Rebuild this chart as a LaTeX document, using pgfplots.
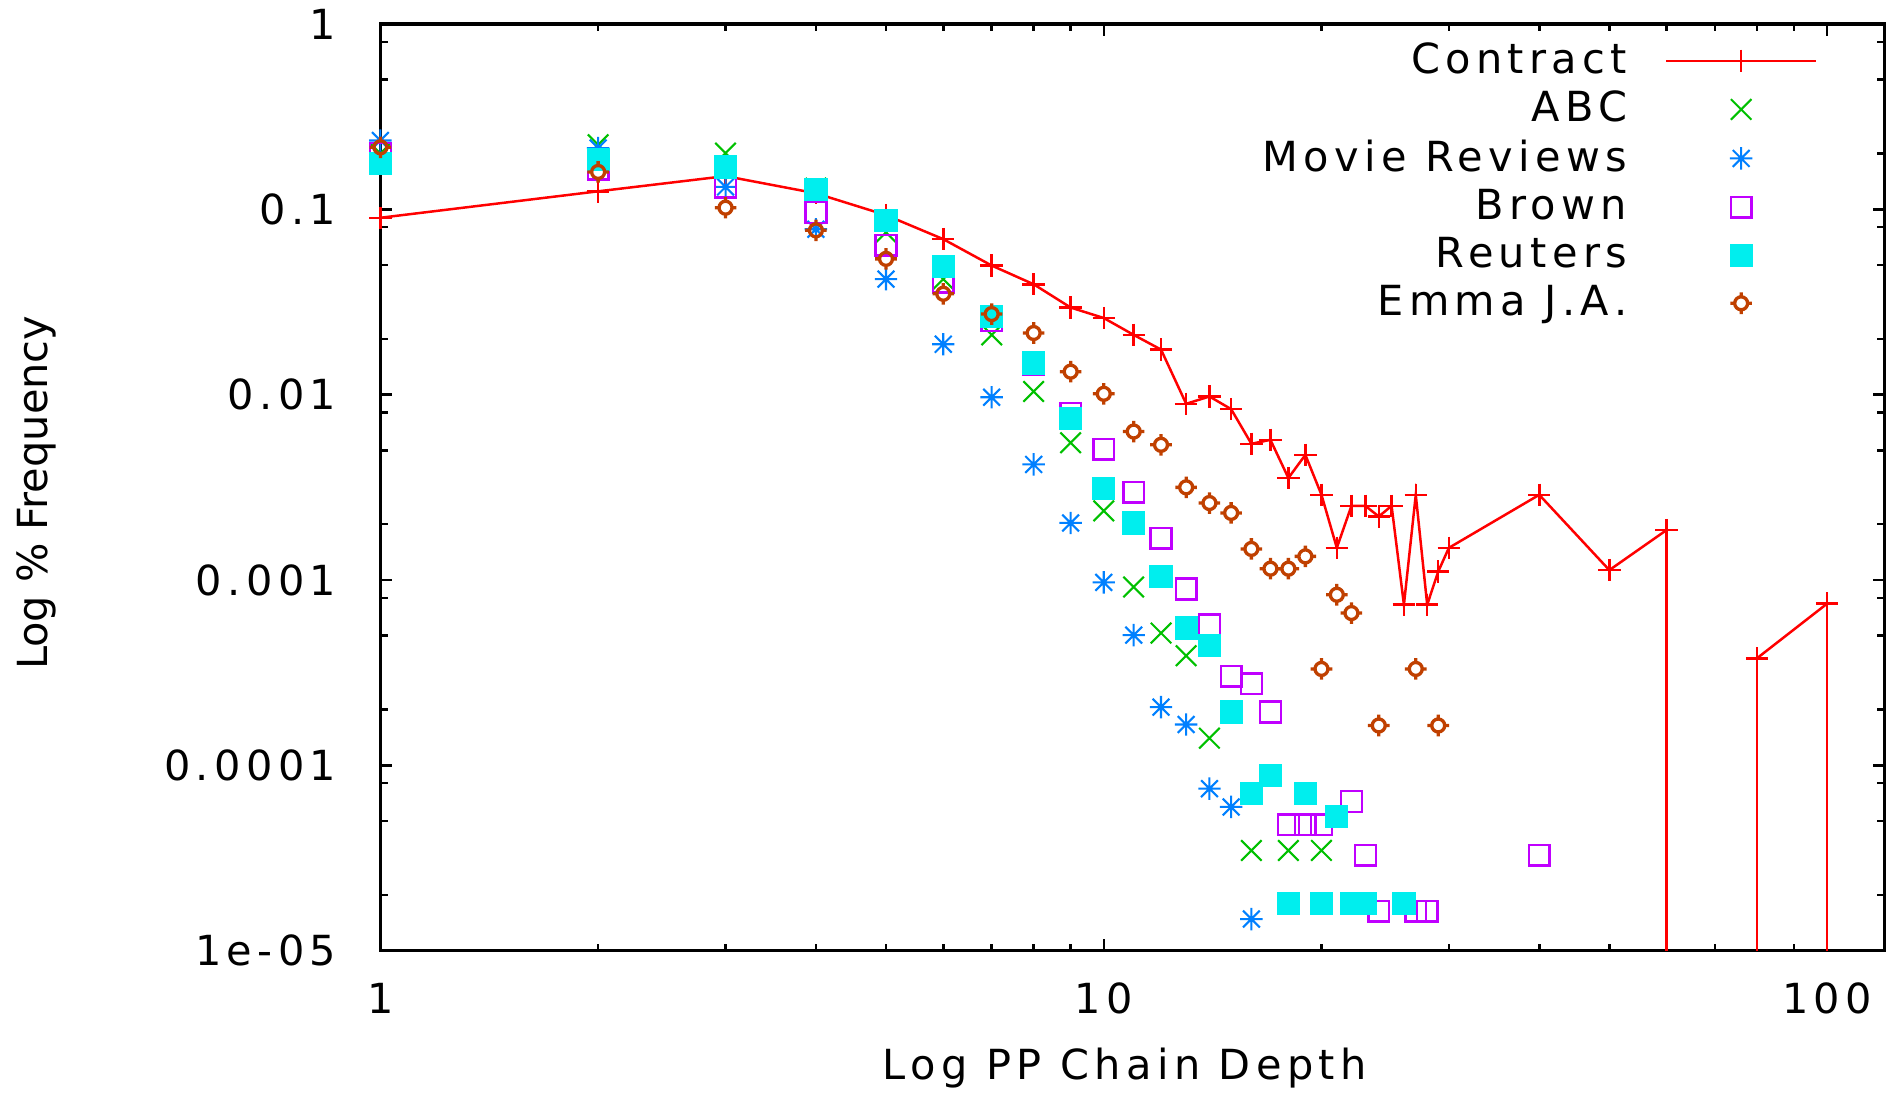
\documentclass[border=0pt]{standalone}
\usepackage{fontspec}
\setmainfont{DejaVu Sans}[LetterSpace=13]
\newfontfamily\plainfont{DejaVu Sans}
\usepackage{graphicx}
\usepackage{pgfplots}
\pgfplotsset{compat=1.18}

% gnuplot default line colours
\definecolor{gpred}{HTML}{FF0000}
\definecolor{gpgreen}{HTML}{00C000}
\definecolor{gpblue}{HTML}{0080FF}
\definecolor{gpmag}{HTML}{C000FF}
\definecolor{gpcyan}{HTML}{00EEEE}
\definecolor{gpbrown}{HTML}{C04000}

% gnuplot-like asterisk (+ and x) and ring with small spikes
\pgfdeclareplotmark{gstar}{%
  \pgfpathmoveto{\pgfqpoint{-\pgfplotmarksize}{0pt}}\pgfpathlineto{\pgfqpoint{\pgfplotmarksize}{0pt}}%
  \pgfpathmoveto{\pgfqpoint{0pt}{-\pgfplotmarksize}}\pgfpathlineto{\pgfqpoint{0pt}{\pgfplotmarksize}}%
  \pgfpathmoveto{\pgfqpoint{-.75\pgfplotmarksize}{-.75\pgfplotmarksize}}\pgfpathlineto{\pgfqpoint{.75\pgfplotmarksize}{.75\pgfplotmarksize}}%
  \pgfpathmoveto{\pgfqpoint{-.75\pgfplotmarksize}{.75\pgfplotmarksize}}\pgfpathlineto{\pgfqpoint{.75\pgfplotmarksize}{-.75\pgfplotmarksize}}%
  \pgfusepathqstroke}
\pgfdeclareplotmark{gcirc}{%
  \pgfpathcircle{\pgfpointorigin}{.6\pgfplotmarksize}%
  \pgfpathmoveto{\pgfqpoint{0pt}{.6\pgfplotmarksize}}\pgfpathlineto{\pgfqpoint{0pt}{\pgfplotmarksize}}%
  \pgfpathmoveto{\pgfqpoint{0pt}{-.6\pgfplotmarksize}}\pgfpathlineto{\pgfqpoint{0pt}{-\pgfplotmarksize}}%
  \pgfpathmoveto{\pgfqpoint{.6\pgfplotmarksize}{0pt}}\pgfpathlineto{\pgfqpoint{\pgfplotmarksize}{0pt}}%
  \pgfpathmoveto{\pgfqpoint{-.6\pgfplotmarksize}{0pt}}\pgfpathlineto{\pgfqpoint{-\pgfplotmarksize}{0pt}}%
  \pgfusepathqstroke}

\begin{document}
\begin{tikzpicture}
\useasboundingbox (-3.224cm,-1.214cm) rectangle (12.776cm,8.056cm);
\begin{axis}[
  scale only axis, width=12.745cm, height=7.853cm,
  xmode=log, ymode=log,
  xmin=1, xmax=120, ymin=1e-5, ymax=1,
  xtick={1,10,100}, xticklabels={1,10,100},
  minor xtick={2,3,4,5,6,7,8,9,20,30,40,50,60,70,80,90},
  ytick={1e-5,1e-4,1e-3,1e-2,1e-1,1},
  yticklabels={1e-05,0.0001,0.001,0.01,0.1,1},
  minor ytick={2e-5,5e-5,8e-5,2e-4,5e-4,8e-4,2e-3,5e-3,8e-3,0.02,0.05,0.08,0.2,0.5,0.8},
  xtick pos=both, ytick pos=both, tick align=inside,
  major tick length=0.1cm, minor tick length=0.06cm,
  every tick/.style={black, line width=0.6pt},
  axis line style={black, line width=0.8pt},
  tick label style={font=\fontsize{10}{12}\selectfont, black},
  xticklabel style={yshift=-0.15cm},
  yticklabel style={xshift=-0.25cm},
  xlabel={Log PP Chain Depth},
  ylabel={\plainfont Log \% Frequency},
  label style={font=\fontsize{10}{12}\selectfont},
  xlabel style={at={(axis description cs:0.495,-0.127)}, anchor=center},
  ylabel style={at={(axis description cs:-0.229,0.494)}, anchor=center},
  legend style={draw=none, fill=none, at={(rel axis cs:0.956,0.99)}, anchor=north east,
    font=\fontsize{10}{12}\selectfont, row sep=-1.2pt, column sep=0.25cm, inner sep=0pt},
  legend cell align=right, legend plot pos=right,
  legend image code/.code={\draw[mark repeat=2,mark phase=2,#1] plot coordinates {(0cm,0cm) (0.635cm,0cm) (1.27cm,0cm)};},
  unbounded coords=jump,
]
\addplot[color=gpred, line width=0.6pt, mark=+, mark size=2.7pt] coordinates {
  (1,0.090) (2,0.125) (3,0.151) (4,0.122) (5,0.093) (6,0.069) (7,0.0497) (8,0.0394)
  (9,0.0295) (10,0.0259) (11,0.0210) (12,0.0175) (13,0.00892) (14,0.00977) (15,0.00835)
  (16,0.00543) (17,0.00570) (18,0.00355) (19,0.00473) (20,0.00288) (21,0.00149)
  (22,0.00251) (23,0.00251) (24,0.00220) (25,0.00251) (26,0.000735) (27,0.00288)
  (28,0.000735) (29,0.00111) (30,0.00149) (40,0.00288) (50,0.00113) (60,0.00186)
  (70,nan) (80,0.000378) (100,0.000745)};
\addlegendentry{Contract}
\addplot[color=gpgreen, only marks, mark=x, mark size=3.5pt, line width=0.5pt] coordinates {
  (1,0.20) (2,0.223) (3,0.201) (4,0.130) (5,0.075) (6,0.042) (7,0.0210) (8,0.0104)
  (9,0.0055) (10,0.00236) (11,0.000916) (12,0.000517) (13,0.00039) (14,0.000140)
  (16,3.47e-5) (18,3.47e-5) (20,3.47e-5)};
\addlegendentry{ABC}
\addplot[color=gpblue, only marks, mark=gstar, mark size=2.7pt, line width=0.5pt] coordinates {
  (1,0.235) (2,0.214) (3,0.132) (4,0.078) (5,0.042) (6,0.0187) (7,0.00968) (8,0.0042)
  (9,0.00203) (10,0.00097) (11,0.000504) (12,0.000206) (13,0.000166) (14,7.48e-5)
  (15,5.96e-5) (16,1.48e-5)};
\addlegendentry{Movie Reviews}
\addplot[color=gpmag, only marks, mark=square, mark size=2.5pt, line width=0.6pt] coordinates {
  (1,0.20) (2,0.165) (3,0.132) (4,0.096) (5,0.064) (6,0.0405) (7,0.025) (8,0.0145)
  (9,0.0079) (10,0.00508) (11,0.00297) (12,0.00168) (13,0.000893) (14,0.000573)
  (15,0.000302) (16,0.000275) (17,0.000194) (18,4.78e-5) (19,4.78e-5) (20,4.78e-5)
  (22,6.38e-5) (23,3.27e-5) (24,1.63e-5) (27,1.63e-5) (28,1.63e-5) (40,3.27e-5)};
\addlegendentry{Brown}
\addplot[color=gpcyan, only marks, mark=square*, mark size=2.6pt, mark options={fill=gpcyan}] coordinates {
  (1,0.176) (2,0.185) (3,0.169) (4,0.128) (5,0.087) (6,0.049) (7,0.0263) (8,0.0148)
  (9,0.0074) (10,0.00313) (11,0.00203) (12,0.00104) (13,0.00055) (14,0.000442)
  (15,0.000194) (16,7.03e-5) (17,8.79e-5) (18,1.79e-5) (19,7.03e-5) (20,1.79e-5)
  (21,5.3e-5) (22,1.79e-5) (23,1.79e-5) (26,1.79e-5)};
\addlegendentry{Reuters}
\addplot[color=gpbrown, only marks, mark=gcirc, mark size=2.6pt, line width=0.8pt] coordinates {
  (1,0.216) (2,0.159) (3,0.102) (4,0.077) (5,0.054) (6,0.035) (7,0.0272) (8,0.0215)
  (9,0.0133) (10,0.0101) (11,0.00632) (12,0.00536) (13,0.00316) (14,0.00260)
  (15,0.00230) (16,0.00147) (17,0.00115) (18,0.00115) (19,0.00134) (20,0.000331)
  (21,0.000832) (22,0.000663) (24,0.000164) (27,0.000331) (29,0.000164)};
\addlegendentry{Emma J.A.}
% Contract values that fall below the plotted range
\addplot[color=gpred, line width=0.6pt, forget plot] coordinates {(60,0.00186) (60,1e-5)};
\addplot[color=gpred, line width=0.6pt, forget plot] coordinates {(80,1e-5) (80,0.000378)};
\addplot[color=gpred, line width=0.6pt, forget plot] coordinates {(100,0.000745) (100,1e-5)};
\end{axis}
\end{tikzpicture}
\end{document}
